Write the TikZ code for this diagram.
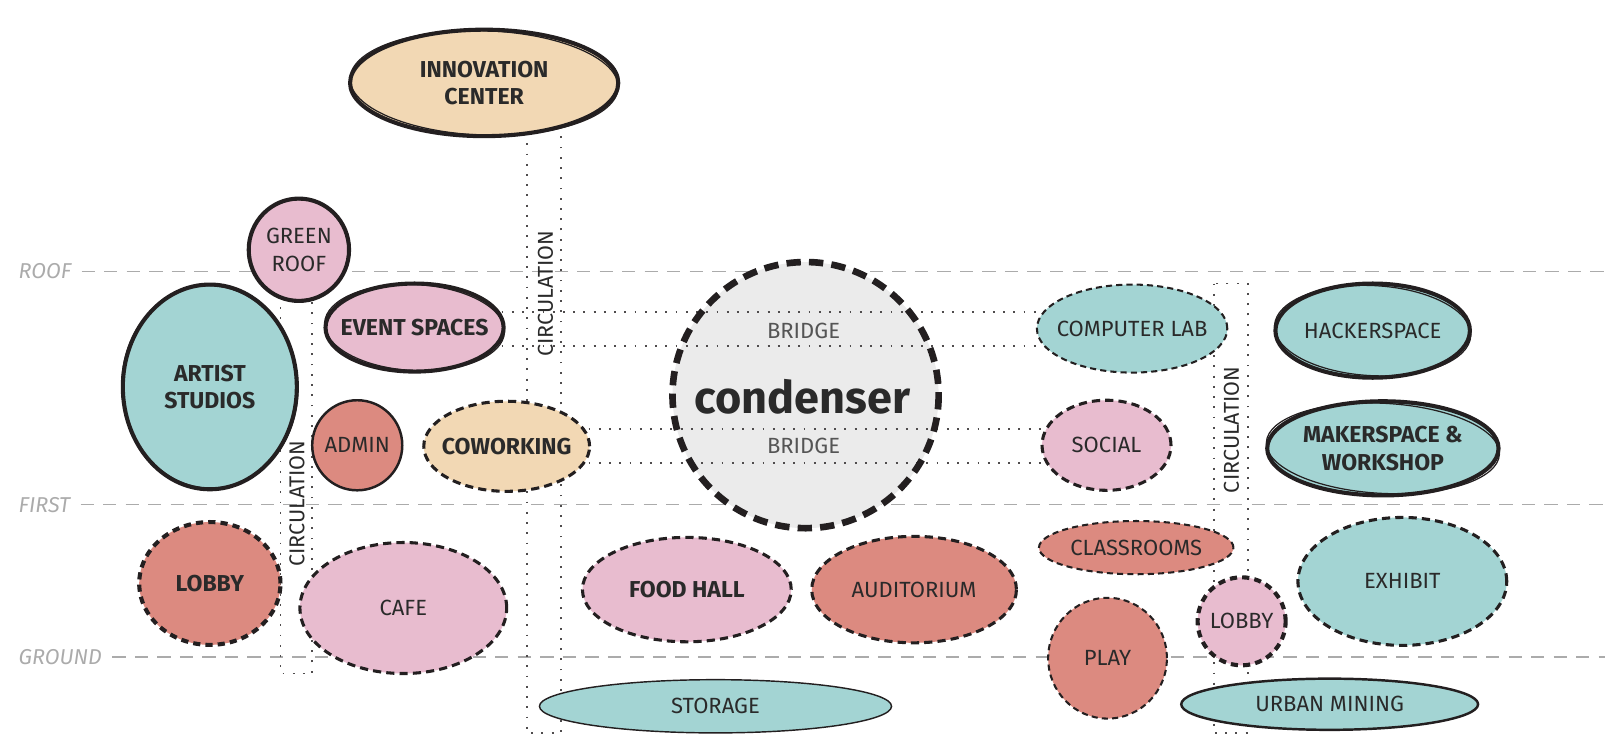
\documentclass[tikz,border=0pt]{standalone}
\usepackage{fontspec}
\setmainfont{Fira Sans}
\usetikzlibrary{shapes.geometric}
\definecolor{tanC}{HTML}{F2D8B4}
\definecolor{pinkC}{HTML}{E8BCCF}
\definecolor{tealC}{HTML}{A3D4D3}
\definecolor{salmonC}{HTML}{DC8A80}
\definecolor{condC}{HTML}{EBEBEB}
\definecolor{inkC}{HTML}{231F20}
\definecolor{textC}{HTML}{2A2A2A}
\definecolor{levelC}{HTML}{ABABAB}
\definecolor{bridgeC}{HTML}{555555}
\newcommand\rlab{\fontsize{21.5}{27}\selectfont}
\newcommand\rlabb{\fontsize{22.5}{27}\selectfont\bfseries}
\tikzset{
  room/.style={ellipse, inner sep=0pt, outer sep=0pt},
  lab/.style={text=textC, font=\rlab, align=center, inner sep=0pt},
  blab/.style={text=textC, font=\rlabb, align=center, inner sep=0pt},
  solidthick/.style={draw=inkC, line width=4pt},
  solidmed/.style={draw=inkC, line width=2.4pt},
  solidthin/.style={draw=inkC, line width=1.4pt},
  dashthick/.style={draw=inkC, line width=4pt, dash pattern=on 7pt off 5pt},
  dashmed/.style={draw=inkC, line width=3pt, dash pattern=on 8pt off 5pt},
  dashthin/.style={draw=inkC, line width=2pt, dash pattern=on 6pt off 4pt},
  sketch/.style={draw=inkC, line width=1.2pt},
  levelline/.style={draw=levelC, line width=1.3pt, dash pattern=on 13pt off 9pt},
  levellab/.style={anchor=west, text=levelC, font=\fontsize{21}{22}\selectfont\itshape, inner sep=0pt},
  dotline/.style={draw=inkC!80, line width=1.8pt, dash pattern=on 1.8pt off 8.2pt},
  circlab/.style={rotate=90, text=textC, font=\fontsize{21}{22}\selectfont, inner sep=0pt},
  bridgelab/.style={text=bridgeC, font=\fontsize{21.5}{22}\selectfont, inner sep=0pt}
}
\begin{document}
\begin{tikzpicture}[x=1pt, y=-1pt]
\useasboundingbox (0,0) rectangle (1568,725);
% level lines
\node[levellab] (lroof) at (18,265) {ROOF};
\node[levellab] (lfirst) at (18,493) {FIRST};
\node[levellab] (lground) at (18,642) {GROUND};
\coordinate (roofE) at (1568,265);
\coordinate (firstE) at (1568,493);
\coordinate (groundE) at (1568,642);
\draw[levelline] ([xshift=10pt]lroof.east) -- (roofE);
\draw[levelline] ([xshift=10pt]lfirst.east) -- (firstE);
\draw[levelline] ([xshift=10pt]lground.east) -- (groundE);
% condenser fill
\node[circle, fill=condC, minimum size=260pt, inner sep=0pt] (cond) at (787,386) {};
% circulation columns
\coordinate (cl1) at (274,290); \coordinate (cl2) at (274,658);
\coordinate (cl3) at (305,658); \coordinate (cl4) at (305,290);
\draw[dotline] (cl1) -- (cl2) -- (cl3) -- (cl4);
\coordinate (cm1) at (515,120); \coordinate (cm2) at (515,716);
\coordinate (cm3) at (548,716); \coordinate (cm4) at (548,120);
\draw[dotline] (cm1) -- (cm2) -- (cm3) -- (cm4);
\coordinate (cr1) at (1186,277); \coordinate (cr2) at (1186,716);
\coordinate (cr3) at (1219,716); \coordinate (cr4) at (1219,277);
\draw[dotline] (cr1) -- (cr2) -- (cr3) -- (cr4) -- cycle;
\node[circlab] (circL) at (290,492) {CIRCULATION};
\node[circlab] (circM) at (533,287) {CIRCULATION};
\node[circlab] (circR) at (1203,420) {CIRCULATION};
% bridges
\coordinate (b1a) at (480,305); \coordinate (b1b) at (1030,305);
\coordinate (b2a) at (480,338); \coordinate (b2b) at (1030,338);
\coordinate (b3a) at (565,419); \coordinate (b3b) at (1030,419);
\coordinate (b4a) at (565,452); \coordinate (b4b) at (1030,452);
\draw[dotline] (b1a) -- (b1b);
\draw[dotline] (b2a) -- (b2b);
\draw[dotline] (b3a) -- (b3b);
\draw[dotline] (b4a) -- (b4b);
\node[bridgelab] (bridge1) at (785,323) {BRIDGE};
\node[bridgelab] (bridge2) at (785,436) {BRIDGE};
% rooms
\node[room, fill=tanC, solidthick, minimum width=262pt, minimum height=104pt, label={[blab]center:INNOVATION\\CENTER}] (innov) at (473,81) {};
\draw[sketch] (innov.center) ellipse [x radius=131, y radius=51, rotate=-2];
\node[room, fill=pinkC, solidthick, minimum width=98pt, minimum height=100pt, label={[lab]center:GREEN\\ROOF}] (green) at (292,244) {};
\draw[sketch] (green.center) ellipse [x radius=50, y radius=49, rotate=8];
\node[room, fill=tealC, solidthick, minimum width=170pt, minimum height=200pt, label={[blab]center:ARTIST\\STUDIOS}] (artist) at (205,378) {};
\draw[sketch] (artist.center) ellipse [x radius=86, y radius=99, rotate=3];
\node[room, fill=pinkC, solidthick, minimum width=174pt, minimum height=86pt, label={[blab]center:EVENT SPACES}] (event) at (405,320) {};
\draw[sketch] (event.center) ellipse [x radius=88, y radius=42, rotate=-3];
\node[room, fill=salmonC, solidmed, minimum width=88pt, minimum height=88pt, label={[lab]center:ADMIN}] (admin) at (349,435) {};
\node[room, fill=tanC, dashmed, minimum width=162pt, minimum height=88pt, label={[blab]center:COWORKING}] (cowork) at (495,436) {};
\node[room, fill=tealC, dashthin, minimum width=186pt, minimum height=86pt, label={[lab]center:COMPUTER LAB}] (complab) at (1106,321) {};
\node[room, fill=tealC, solidthick, minimum width=190pt, minimum height=92pt, label={[lab]center:HACKERSPACE}] (hacker) at (1341,323) {};
\draw[sketch] (hacker.center) ellipse [x radius=96, y radius=44, rotate=-3];
\node[room, fill=pinkC, dashmed, minimum width=126pt, minimum height=88pt, label={[lab]center:SOCIAL}] (social) at (1081,435) {};
\node[room, fill=tealC, solidthick, minimum width=226pt, minimum height=92pt, label={[blab]center:MAKERSPACE \&\\WORKSHOP}] (maker) at (1351,438) {};
\draw[sketch] (maker.center) ellipse [x radius=114, y radius=44, rotate=-3];
\node[room, fill=salmonC, dashthin, minimum width=190pt, minimum height=52pt, label={[lab]center:CLASSROOMS}] (class) at (1110,535) {};
\node[room, fill=salmonC, dashthick, minimum width=138pt, minimum height=120pt, label={[blab]center:LOBBY}] (lobbyL) at (205,570) {};
\node[room, fill=pinkC, dashmed, minimum width=202pt, minimum height=128pt, label={[lab]center:CAFE}] (cafe) at (394,594) {};
\node[room, fill=pinkC, dashmed, minimum width=204pt, minimum height=102pt, label={[blab]center:FOOD HALL}] (food) at (671,576) {};
\node[room, fill=salmonC, dashmed, minimum width=200pt, minimum height=104pt, label={[lab]center:AUDITORIUM}] (audit) at (893,576) {};
\node[room, fill=salmonC, dashthin, minimum width=116pt, minimum height=118pt, label={[lab]center:PLAY}] (play) at (1082,643) {};
\node[room, fill=pinkC, dashthick, minimum width=86pt, minimum height=86pt, label={[lab]center:LOBBY}] (lobbyR) at (1213,607) {};
\node[room, fill=tealC, dashmed, minimum width=204pt, minimum height=125pt, label={[lab]center:EXHIBIT}] (exhibit) at (1370,568) {};
\node[room, fill=tealC, solidthin, minimum width=344pt, minimum height=52pt, label={[lab]center:STORAGE}] (storage) at (699,690) {};
\node[room, fill=tealC, solidmed, minimum width=290pt, minimum height=50pt, label={[lab]center:URBAN MINING}] (urban) at (1299,688) {};
% condenser border and title
\draw[draw=inkC, line width=6.5pt, dash pattern=on 14pt off 8pt] (cond.center) circle [radius=130];
\node[text=textC, font=\fontsize{44}{46}\selectfont\bfseries, inner sep=0pt] (condtxt) at (784,388) {condenser};
\end{tikzpicture}
\end{document}
